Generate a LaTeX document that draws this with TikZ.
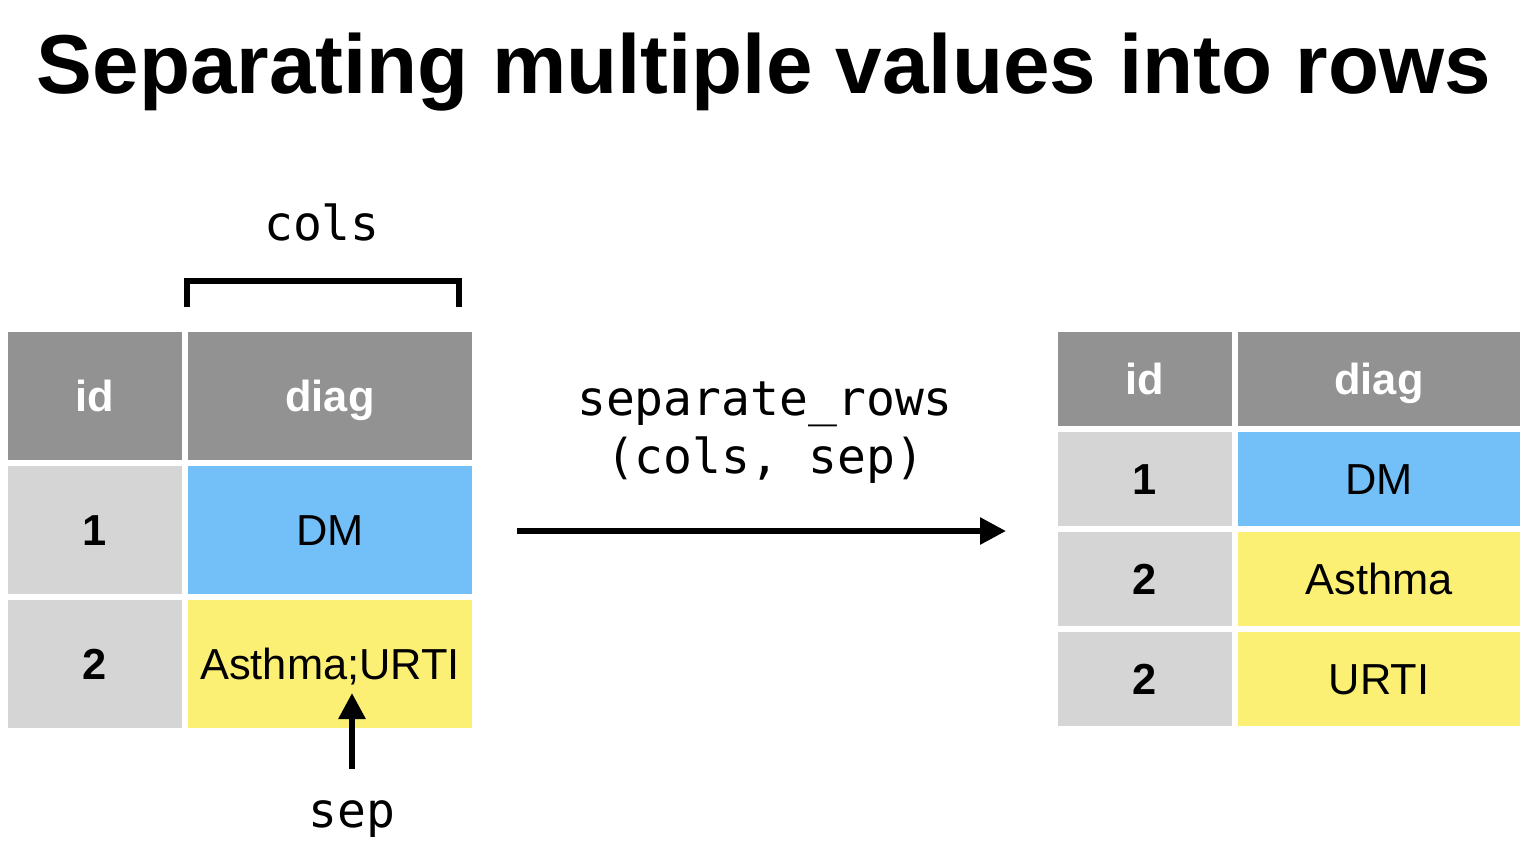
\documentclass[tikz,border=0pt]{standalone}
\usepackage{fontspec}
\setmainfont{Liberation Sans}
\newfontfamily\codefont{DejaVu Sans Mono}
\usetikzlibrary{arrows.meta}
\definecolor{headgray}{HTML}{929292}
\definecolor{idgray}{HTML}{D5D5D5}
\definecolor{dmblue}{HTML}{73BFF8}
\definecolor{respyellow}{HTML}{FCF074}
\newcommand{\tabfont}{\fontsize{21.7}{26}\selectfont}
\newcommand{\codesize}{\fontsize{24}{28}\selectfont\codefont}
\tikzset{
  cell/.style={inner sep=0pt, text height=15.5pt, text depth=0pt, font=\tabfont},
  head/.style={cell, fill=headgray, text=white, font=\tabfont\bfseries},
  idc/.style={cell, fill=idgray, font=\tabfont\bfseries},
  dmc/.style={cell, fill=dmblue},
  respc/.style={cell, fill=respyellow},
  narrow/.style={minimum width=87pt},
  lwide/.style={minimum width=142pt},
  rwide/.style={minimum width=141pt},
  lrow/.style={minimum height=64pt},
  rrow/.style={minimum height=47pt},
  code/.style={anchor=base, font=\codesize},
  flow/.style={line width=2.9pt, -{Triangle[length=13pt, width=13pt]}},
  brk/.style={line width=3pt}
}
\begin{document}
\begin{tikzpicture}[x=0.5pt, y=-0.5pt]
    \useasboundingbox (0,0) rectangle (1530,848);
    % title
    \node[anchor=base, font=\fontsize{41.8}{48}\selectfont\bfseries] (title) at (764,93) {Separating multiple values into rows};
    % left table
    \node[head, narrow, lrow] (lid0) at (95,396) {id};
    \node[head, lwide, lrow] (ldiag0) at (330,396) {diag};
    \node[idc, narrow, lrow] (lid1) at (95,530) {1};
    \node[dmc, lwide, lrow] (ldiag1) at (330,530) {DM};
    \node[idc, narrow, lrow] (lid2) at (95,664) {2};
    \node[respc, lwide, lrow] (ldiag2) at (330,664) {Asthma;URTI};
    % cols bracket
    \node[code] (cols) at (322,240) {cols};
    \draw[brk] (187,307) -- (187,281) -- (459,281) -- (459,307);
    % sep pointer
    \node[code] (sep) at (352,827) {sep};
    \coordinate (septail) at (352,769);
    \coordinate (septip) at (352,693);
    \draw[flow] (septail) -- (septip);
    % function arrow
    \node[code] (fnname) at (765,415) {separate\_rows};
    \node[code] (fnargs) at (765,473) {(cols, sep)};
    \coordinate (arrtail) at (517,531);
    \coordinate (arrhead) at (1006,531);
    \draw[flow] (arrtail) -- (arrhead);
    % right table
    \node[head, narrow, rrow] (rid0) at (1145,379) {id};
    \node[head, rwide, rrow] (rdiag0) at (1379,379) {diag};
    \node[idc, narrow, rrow] (rid1) at (1145,479) {1};
    \node[dmc, rwide, rrow] (rdiag1) at (1379,479) {DM};
    \node[idc, narrow, rrow] (rid2) at (1145,579) {2};
    \node[respc, rwide, rrow] (rdiag2) at (1379,579) {Asthma};
    \node[idc, narrow, rrow] (rid3) at (1145,679) {2};
    \node[respc, rwide, rrow] (rdiag3) at (1379,679) {URTI};
\end{tikzpicture}
\end{document}
